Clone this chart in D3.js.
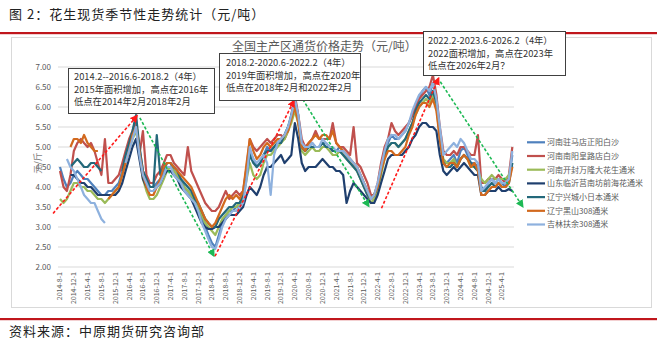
<!DOCTYPE html>
<html><head><meta charset="utf-8">
<script src="https://cdn.jsdelivr.net/npm/d3@7/dist/d3.min.js"></script>
<style>
body{margin:0;background:#fff;}
svg{display:block;font-family:"Noto Sans CJK SC","Noto Sans",sans-serif;}
</style>
</head><body>
<svg id="c" width="657" height="344"></svg>
<script>
// ---------------- data ----------------
const startMonth = "2014-08-01"; // first monthly observation, one value per month afterwards
const seriesNames = ["河南驻马店正阳白沙","河南南阳皇路店白沙","河南开封万隆大花生通米","山东临沂莒南坊前海花通米","辽宁兴城小日本通米","辽宁黑山308通米","吉林扶余308通米"];
const seriesColors = ["#4F81BD","#C0504D","#9BBB59","#1F3F6E","#23687A","#D2691E","#8EB1DE"];
const zhengyang = [4.5,4.2,4.0,4.1,4.3,
 4.4,4.3,4.2,4.2,4.1,4.0,3.9,3.8,3.8,3.9,3.9,4.0,
 4.1,4.4,4.7,5.0,5.3,5.6,5.0,4.4,4.2,4.0,4.0,4.1,
 4.2,4.4,4.6,4.6,4.4,4.3,4.2,4.0,3.9,3.8,3.7,3.5,
 3.2,3.0,2.8,2.6,2.5,2.8,3.1,3.3,3.4,3.4,3.5,3.5,
 3.7,4.3,4.9,4.7,4.5,4.6,4.8,5.0,4.9,5.0,5.1,5.2,
 5.3,5.5,5.7,6.2,5.8,5.0,4.9,5.0,5.1,5.0,5.0,5.1,
 5.1,5.0,4.9,4.9,5.0,4.9,4.8,4.7,4.6,4.5,4.3,4.1,
 3.9,3.7,3.8,4.0,4.4,4.8,5.1,5.3,5.2,5.2,5.3,5.4,
 5.6,5.8,6.0,6.2,6.4,6.5,6.3,6.6,6.2,5.4,4.6,4.6,
 4.7,4.8,4.6,4.9,5.0,4.8,4.6,4.6,4.5,4.0,3.9,4.1,
 4.2,4.1,4.2,4.1,4.0,4.2,4.8];
const huanglu = [4.4,4.0,3.9,4.3,4.9,
 5.1,5.2,5.1,5.0,5.1,4.9,4.6,4.3,5.2,4.1,4.1,4.2,
 4.3,4.6,4.9,5.2,5.4,5.7,4.8,5.4,4.3,4.1,4.1,4.3,
 4.4,4.6,4.8,4.8,4.6,4.5,4.4,4.3,5.0,4.4,4.2,4.0,
 3.8,3.6,3.5,3.4,3.4,3.5,3.7,3.9,3.7,3.8,3.9,3.8,
 3.9,4.5,5.2,5.0,4.9,5.0,5.1,5.2,5.1,5.2,5.3,5.3,
 5.2,5.4,5.8,6.3,5.8,5.2,5.0,5.1,5.2,5.4,5.2,5.2,
 5.2,5.2,5.6,5.1,5.0,5.0,4.9,4.8,5.5,4.6,4.5,4.3,
 4.1,3.8,3.8,4.1,4.6,5.0,5.2,5.6,5.4,5.3,5.4,5.5,
 5.6,5.8,6.0,6.2,6.3,6.4,6.5,6.8,6.3,5.5,4.9,4.8,
 4.8,4.9,4.8,5.0,5.0,4.9,4.8,4.8,5.3,4.1,4.1,4.2,
 4.2,4.2,4.3,4.2,4.1,4.3,5.0];
const kaifeng = [3.7,3.6,3.7,3.9,4.1,
 4.1,4.0,4.0,3.9,3.9,3.8,3.7,3.7,3.6,3.7,3.8,3.9,
 4.0,4.3,4.6,4.9,5.2,5.4,4.9,4.2,3.9,3.7,3.7,3.8,
 4.0,4.2,4.4,4.5,4.4,4.3,4.1,4.0,3.9,3.8,3.6,3.5,
 3.3,3.1,3.0,2.9,2.8,3.0,3.2,3.3,3.4,3.5,3.5,3.6,
 3.7,4.2,4.6,4.3,4.2,4.3,4.6,4.8,4.8,4.9,5.0,5.1,
 5.2,5.4,5.6,5.9,5.6,4.9,4.8,4.9,5.0,4.9,4.9,5.0,
 5.0,4.9,4.8,4.8,4.9,4.8,4.7,4.6,4.5,4.4,4.2,4.0,
 3.8,3.6,3.7,3.9,4.3,4.7,5.0,5.1,5.1,5.0,5.1,5.2,
 5.4,5.6,5.8,6.0,6.1,6.2,6.1,6.3,6.0,5.2,4.7,4.6,
 4.6,4.7,4.5,4.7,4.8,4.7,4.5,4.5,4.4,4.2,4.1,4.2,
 4.3,4.2,4.2,4.2,4.2,4.3,4.6];
const shandong = [null,null,null,4.3,4.3,
 4.2,4.1,4.1,4.0,4.0,3.9,3.8,3.8,3.8,3.8,3.8,3.8,
 3.9,4.1,4.4,4.7,5.0,5.2,4.7,4.2,4.0,3.9,3.9,4.0,
 4.1,4.3,4.4,4.4,4.3,4.2,4.0,3.9,3.8,3.7,3.5,3.3,
 3.1,3.0,2.95,2.95,3.0,3.0,3.1,3.2,3.3,3.3,3.3,3.4,
 3.5,3.8,4.0,3.9,3.8,4.0,4.3,4.5,4.5,4.6,4.7,4.8,
 4.6,4.7,4.8,5.6,5.2,4.6,4.4,4.5,4.5,4.5,4.6,4.7,
 4.6,4.5,4.5,4.4,4.4,4.3,3.6,3.9,4.1,4.0,3.9,3.8,
 3.7,3.6,3.6,3.8,4.1,4.4,4.7,4.8,4.8,4.8,4.8,4.9,
 5.0,5.2,5.3,5.5,5.6,5.6,5.5,5.5,5.4,4.8,4.4,4.3,
 4.4,4.5,4.4,4.5,4.6,4.5,4.4,4.3,4.3,3.8,3.8,3.9,
 3.9,3.9,4.0,3.9,3.9,3.95,3.9];
const xingcheng = [null,null,null,4.5,4.6,
 4.7,4.6,4.5,4.5,4.6,4.6,4.5,4.4,null,null,null,null,
 null,4.4,4.8,5.1,5.4,5.8,5.0,4.4,4.2,4.0,4.0,5.3,
 4.3,4.5,4.6,4.6,4.5,4.4,4.2,4.1,4.0,3.9,3.7,3.6,
 3.4,3.2,3.1,3.0,3.0,3.2,3.3,3.4,3.5,3.5,3.6,3.6,
 3.8,4.3,4.8,4.6,4.5,4.6,4.8,4.9,4.9,5.0,5.1,5.1,
 5.3,5.5,5.8,6.1,5.7,5.0,4.9,5.0,5.0,5.0,5.0,5.1,
 5.0,5.0,4.9,4.9,4.9,4.8,4.7,4.6,4.5,4.4,4.2,4.0,
 3.8,3.7,3.8,4.0,4.4,4.8,5.0,5.1,5.1,5.0,5.1,5.2,
 5.4,5.6,5.9,6.1,6.2,6.3,6.2,6.4,6.1,5.3,4.6,4.5,
 4.5,4.6,4.5,4.7,4.8,4.7,4.6,4.5,4.4,3.9,3.9,4.0,
 4.1,4.0,4.1,4.0,4.0,4.1,4.6];
const heishan = [null,null,null,5.0,5.2,
 5.2,5.1,5.3,5.1,5.0,4.9,4.9,null,null,3.7,3.8,3.9,
 4.0,4.3,4.6,4.9,5.3,5.5,4.9,4.3,4.0,3.8,3.8,4.0,
 4.2,4.5,4.6,4.6,4.5,4.4,4.3,4.2,4.1,4.0,3.8,3.6,
 3.4,3.2,3.1,3.0,3.1,3.3,3.5,3.7,3.8,3.7,3.8,3.7,
 3.9,4.6,5.2,4.9,4.7,4.8,5.0,5.1,5.0,5.1,5.2,5.2,
 5.3,5.4,5.7,6.0,5.6,5.0,4.9,5.1,5.2,5.3,5.2,5.3,
 5.3,5.2,5.4,5.1,5.0,4.9,4.8,4.7,4.6,4.5,4.3,4.1,
 3.9,3.7,3.8,4.0,4.4,4.7,4.9,4.9,4.8,4.8,4.9,5.0,
 5.3,5.5,5.8,6.0,6.1,6.1,6.0,6.2,5.9,5.2,4.6,4.5,
 4.6,4.6,4.5,4.7,4.8,4.7,4.5,4.6,4.4,3.8,3.8,3.9,
 4.0,4.0,4.1,4.0,4.0,4.1,4.5];
const fuyu = [null,null,4.7,4.5,4.4,
 4.2,4.0,3.8,3.7,3.6,3.6,3.4,3.2,3.1,null,null,null,
 null,null,4.6,4.9,5.2,5.5,4.8,4.3,4.1,3.9,3.9,4.0,
 4.1,4.3,4.5,4.5,4.3,4.2,4.1,3.9,3.8,3.7,3.6,3.4,
 3.1,2.9,2.7,2.5,2.45,2.7,3.0,3.2,3.3,3.4,3.4,3.5,
 3.6,4.2,5.0,4.7,4.6,4.7,4.8,4.6,3.8,4.8,5.1,5.2,
 5.3,5.5,5.8,6.2,5.8,5.1,5.0,5.0,5.1,5.0,5.0,5.2,
 5.1,5.0,5.0,4.9,4.9,4.9,4.8,4.7,4.6,4.5,4.3,4.1,
 3.9,3.7,3.8,4.1,4.5,4.9,5.2,5.3,5.3,5.2,5.3,5.4,
 5.6,5.9,6.1,6.3,6.4,6.5,6.4,6.6,6.2,5.5,4.8,4.9,
 5.0,5.1,5.0,5.2,5.1,4.9,4.7,4.7,4.6,3.9,4.0,4.1,
 4.2,4.1,4.2,4.1,4.1,4.2,4.9];
const seriesValues = [zhengyang,huanglu,kaifeng,shandong,xingcheng,heishan,fuyu];

const yTicks = [2.0,2.5,3.0,3.5,4.0,4.5,5.0,5.5,6.0,6.5,7.0];
const xTickLabels = ["2014-8-1","2014-12-1","2015-4-1","2015-8-1","2015-12-1","2016-4-1","2016-8-1","2016-12-1",
 "2017-4-1","2017-8-1","2017-12-1","2018-4-1","2018-8-1","2018-12-1","2019-4-1","2019-8-1","2019-12-1",
 "2020-4-1","2020-8-1","2020-12-1","2021-4-1","2021-8-1","2021-12-1","2022-4-1","2022-8-1","2022-12-1",
 "2023-4-1","2023-8-1","2023-12-1","2024-4-1","2024-8-1","2024-12-1","2025-4-1"];

// cycle arrows: [fromDate, fromValue, toDate, toValue, kind]
const cycleArrows = [
 ["2014-06-01",3.34,"2016-06-10",5.78,"up"],
 ["2016-07-05",5.73,"2018-04-18",2.28,"down"],
 ["2018-04-28",2.27,"2020-03-25",6.16,"up"],
 ["2020-06-10",6.19,"2022-01-12",3.52,"down"],
 ["2022-05-05",3.47,"2023-09-20",6.72,"up"],
 ["2023-10-05",6.63,"2025-10-01",3.51,"down"]
];
const noteLines = [
 ["2014.2--2016.6-2018.2（4年）","2015年面积增加，高点在2016年","低点在2014年2月2018年2月"],
 ["2018.2-2020.6-2022.2（4年）","2019年面积增加，高点在2020年","低点在2018年2月和2022年2月"],
 ["2022.2-2023.6-2026.2（4年）","2022面积增加，高点在2023年","低点在2026年2月？"]
];
const mainTitle = "图 2：花生现货季节性走势统计（元/吨）";
const chartTitle = "全国主产区通货价格走势（元/吨）";
const yAxisTitle = "元/斤";
const sourceText = "资料来源：中原期货研究咨询部";

// ---------------- drawing ----------------
const svg = d3.select("#c");
const parse = d3.timeParse("%Y-%m-%d");
const t0 = parse(startMonth);
const x = d3.scaleTime().domain([parse("2014-08-01"), parse("2025-04-01")]).range([60, 502]);
const y = d3.scaleLinear().domain([2, 7]).range([267, 67]);

// header
svg.append("text").attr("x", 9).attr("y", 19).attr("font-size", 13).attr("letter-spacing", 1)
  .attr("fill", "#222").text(mainTitle);
svg.append("rect").attr("x", 0).attr("y", 32).attr("width", 657).attr("height", 2.2).attr("fill", "#C0161C");
// frame
svg.append("rect").attr("x", 11.5).attr("y", 37.5).attr("width", 640).attr("height", 270)
  .attr("fill", "none").attr("stroke", "#D9D9D9");
// footer
svg.append("rect").attr("x", 0).attr("y", 318).attr("width", 657).attr("height", 2.2).attr("fill", "#C0161C");
svg.append("text").attr("x", 9).attr("y", 336).attr("font-size", 13).attr("letter-spacing", 1)
  .attr("fill", "#222").text(sourceText);

// chart title
svg.append("text").attr("x", 232).attr("y", 51).attr("font-size", 12).attr("fill", "#595959").text(chartTitle);

// gridlines + y ticks
const g = svg.append("g");
g.selectAll("line.grid").data(yTicks).join("line")
  .attr("x1", 58).attr("x2", 514).attr("y1", d => y(d)).attr("y2", d => y(d))
  .attr("stroke", "#D9D9D9").attr("stroke-width", 1);
g.selectAll("text.yt").data(yTicks).join("text")
  .attr("x", 51).attr("y", d => y(d)).attr("dy", "0.35em").attr("text-anchor", "end")
  .attr("font-size", 8).attr("fill", "#595959").text(d => d.toFixed(2));
svg.append("text").attr("transform", `translate(38,${y(4.6)}) rotate(-90)`).attr("text-anchor", "middle")
  .attr("font-size", 9).attr("fill", "#7f7f7f").attr("dy", "0.35em").text(yAxisTitle);

// x labels
g.selectAll("text.xt").data(xTickLabels).join("text")
  .attr("transform", d => `translate(${x(parse(d))},272) rotate(-90)`)
  .attr("text-anchor", "end").attr("dy", "0.35em").attr("font-size", 7).attr("fill", "#595959").text(d => d);

// series
const line = d3.line().defined(d => d.v != null).x(d => x(d.t)).y(d => y(d.v));
seriesValues.forEach((vals, i) => {
  const pts = vals.map((v, k) => ({t: d3.timeMonth.offset(t0, k), v}));
  svg.append("path").datum(pts).attr("d", line).attr("fill", "none")
    .attr("stroke", seriesColors[i]).attr("stroke-width", 2.2).attr("stroke-linejoin", "round");
});

// arrows
const defs = svg.append("defs");
[["up","#FF1A1A"],["down","#1DB954"]].forEach(([k,c]) => {
  defs.append("marker").attr("id", "m-" + k).attr("viewBox", "0 0 10 10").attr("refX", 8).attr("refY", 5)
    .attr("markerWidth", 5).attr("markerHeight", 5).attr("orient", "auto")
    .append("path").attr("d", "M0,0L10,5L0,10Z").attr("fill", c);
});
svg.selectAll("line.arr").data(cycleArrows).join("line")
  .attr("x1", d => x(parse(d[0]))).attr("y1", d => y(d[1]))
  .attr("x2", d => x(parse(d[2]))).attr("y2", d => y(d[3]))
  .attr("stroke", d => d[4] === "up" ? "#FF1A1A" : "#1DB954")
  .attr("stroke-width", 1.6).attr("stroke-dasharray", "3,2")
  .attr("marker-end", d => `url(#m-${d[4]})`);

// annotation boxes
const boxes = [
  {x:68, y:68, w:146, h:45, tx:74, ty:[80,92.5,105]},
  {x:219, y:53, w:141, h:47, tx:226, ty:[66,78.5,91]},
  {x:423, y:31, w:142, h:44, tx:428, ty:[44,56.5,69]}
];
boxes.forEach((b, i) => {
  defs.append("clipPath").attr("id", "clip" + i).append("rect").attr("x", b.x).attr("y", b.y).attr("width", b.w).attr("height", b.h);
  svg.append("rect").attr("x", b.x + .5).attr("y", b.y + .5).attr("width", b.w).attr("height", b.h)
    .attr("fill", "#fff").attr("stroke", "#404040").attr("stroke-width", 1);
  const tg = svg.append("g").attr("clip-path", `url(#clip${i})`);
  noteLines[i].forEach((s, j) => {
    tg.append("text").attr("x", b.tx).attr("y", b.ty[j]).attr("font-size", 9.3).attr("fill", "#333").text(s);
  });
});

// legend
const lg = svg.append("g");
seriesNames.forEach((n, i) => {
  const ly = 142.3 + i * 13.7;
  lg.append("line").attr("x1", 527).attr("x2", 545).attr("y1", ly).attr("y2", ly)
    .attr("stroke", seriesColors[i]).attr("stroke-width", 2.2);
  lg.append("text").attr("x", 547).attr("y", ly).attr("dy", "0.35em").attr("font-size", 8)
    .attr("fill", "#595959").text(n);
});
</script>
</body></html>
